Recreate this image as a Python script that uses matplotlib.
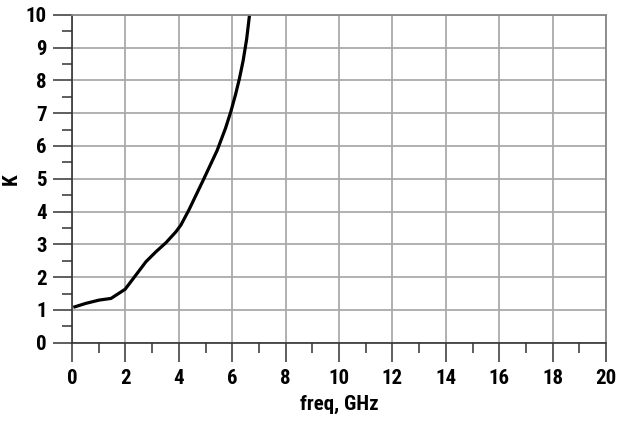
import matplotlib
matplotlib.use("Agg")
import matplotlib.pyplot as plt
from matplotlib import font_manager

# pick a narrow bold face if one is around
names = set(f.name for f in font_manager.fontManager.ttflist)
narrow = [n for n in ['Liberation Sans Narrow', 'DejaVu Sans Condensed', 'Roboto Condensed',
                      'Open Sans Condensed'] if n in names]
plt.rcParams['font.family'] = narrow + ['DejaVu Sans']
plt.rcParams['font.weight'] = 'bold'
plt.rcParams['font.stretch'] = 'condensed'

# stability factor K against frequency
freq = [0.05, 0.52, 1.02, 1.46, 1.99, 2.39, 2.77, 3.14, 3.52, 3.89, 4.08,
        4.38, 4.94, 5.44, 5.75, 5.95, 6.12, 6.27, 6.41, 6.54, 6.65]
k = [1.08, 1.2, 1.30, 1.35, 1.63, 2.06, 2.47, 2.77, 3.05, 3.38, 3.59,
     4.05, 5.0, 5.87, 6.54, 7.05, 7.55, 8.05, 8.6, 9.25, 10.0]

x_ticks = list(range(0, 21, 2))
y_ticks = list(range(0, 11))

fig = plt.figure(figsize=(6.18, 4.24), dpi=100)
ax = fig.add_axes([0.1165, 0.1917, 0.8641, 0.7736])

ax.plot(freq, k, color='black', lw=2.3, solid_capstyle='butt', solid_joinstyle='round')

ax.set_xlim(0, 20)
ax.set_ylim(0, 10)
ax.set_xticks(x_ticks)
ax.set_yticks(y_ticks)
ax.set_xticks(range(1, 20, 2), minor=True)
ax.set_yticks([i + 0.5 for i in range(10)], minor=True)

ax.grid(True, which='major', color='#aaaaaa', lw=1.3)
ax.set_axisbelow(True)

for side in ['left', 'bottom']:
    ax.spines[side].set_color('#333333')
    ax.spines[side].set_linewidth(1.2)
for side in ['top', 'right']:
    ax.spines[side].set_color('#888888')
    ax.spines[side].set_linewidth(1.3)

ax.tick_params(which='major', length=14, width=1.1, color='#333333',
               labelsize=15, pad=4)
ax.tick_params(which='minor', length=7, width=1.1, color='#333333')
ax.tick_params(axis='x', which='major', pad=5)

ax.set_xlabel('freq, GHz', fontsize=15, fontweight='bold', labelpad=5)
ax.set_ylabel('K', fontsize=15, fontweight='bold', labelpad=4)

fig.savefig('out.png', dpi=100)
